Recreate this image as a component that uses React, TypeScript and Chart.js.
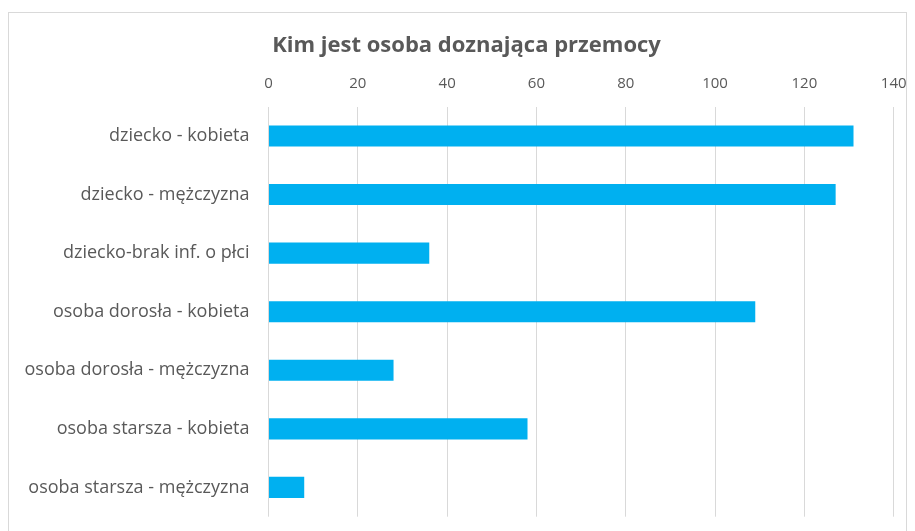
import React, { useEffect, useRef } from "react";
import { Chart, registerables } from "chart.js";

Chart.register(...registerables);

const categories = [
  "dziecko - kobieta",
  "dziecko - mężczyzna",
  "dziecko-brak inf. o płci",
  "osoba dorosła - kobieta",
  "osoba dorosła - mężczyzna",
  "osoba starsza - kobieta",
  "osoba starsza - mężczyzna",
];
const values = [131, 127, 36, 109, 28, 58, 8];
const titleText = "Kim jest osoba doznająca przemocy";
const xMin = 0;
const xMax = 140;
const xStep = 20;

const titlePlugin = {
  id: "offsetTitle",
  afterDraw(chart: any) {
    const ctx = chart.ctx;
    ctx.save();
    ctx.fillStyle = "#595959";
    ctx.font = "bold 22px 'Open Sans', sans-serif";
    ctx.textAlign = "center";
    ctx.textBaseline = "alphabetic";
    ctx.fillText(titleText, (chart.width + 18) / 2, 39);
    ctx.restore();
  },
};

export default function App() {
  const ref = useRef<HTMLCanvasElement | null>(null);
  useEffect(() => {
    if (!ref.current) return;
    const chart = new Chart(ref.current, {
      type: "bar",
      data: {
        labels: categories,
        datasets: [
          {
            data: values,
            backgroundColor: "#00B0F0",
            borderWidth: 0,
            barPercentage: 0.36,
            categoryPercentage: 1,
          },
        ],
      },
      options: {
        indexAxis: "y",
        animation: false,
        responsive: false,
        maintainAspectRatio: false,
        layout: { padding: { left: 0, right: 12.3, top: 44, bottom: 26.3 } },
        plugins: {
          legend: { display: false },
          tooltip: { enabled: false },
          title: { display: false },
        },
        scales: {
          x: {
            position: "top",
            min: xMin,
            max: xMax,
            ticks: {
              stepSize: xStep,
              color: "#595959",
              font: { family: "'Open Sans', sans-serif", size: 15 },
              padding: 14,
            },
            grid: { color: "#d9d9d9", lineWidth: 1, drawTicks: false },
            border: { display: false },
            afterFit: (scale: any) => {
              scale.height = 49.7;
              scale.paddingLeft = 0;
              scale.paddingRight = 0;
            },
          },
          y: {
            ticks: {
              color: "#595959",
              font: { family: "'Open Sans', sans-serif", size: 18 },
              padding: 19,
            },
            grid: { display: false, drawTicks: false },
            border: { display: false },
            afterFit: (scale: any) => {
              scale.width = 259.5;
              scale.paddingTop = 0;
              scale.paddingBottom = 0;
            },
          },
        },
      },
      plugins: [titlePlugin],
    });
    return () => chart.destroy();
  }, []);
  return (
    <div
      style={{
        position: "absolute",
        left: 8,
        top: 12,
        width: 897,
        height: 530,
        border: "1px solid #d9d9d9",
        background: "#fff",
      }}
    >
      <canvas ref={ref} width={897} height={530} style={{ display: "block" }} />
    </div>
  );
}
